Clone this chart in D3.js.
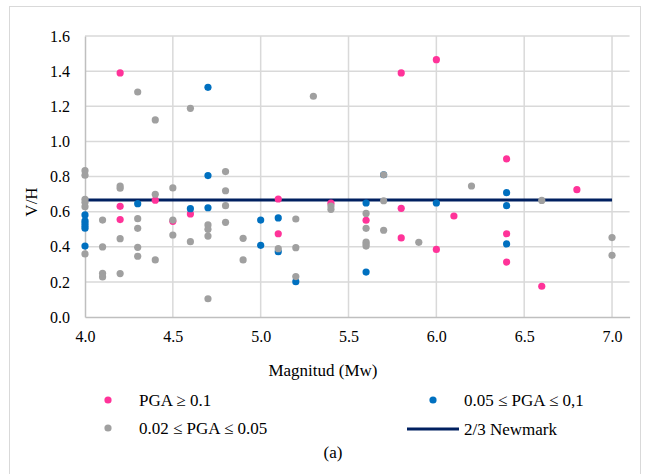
<!DOCTYPE html>
<html><head><meta charset="utf-8">
<script src="https://cdn.jsdelivr.net/npm/d3@7"></script>
<style>body{margin:0;background:#fff}svg{display:block}text{font-family:"Liberation Serif","Times New Roman",serif;fill:#000}</style>
</head><body><svg id="c" width="646" height="474"></svg>
<script>
const xTicks = [4.0, 4.5, 5.0, 5.5, 6.0, 6.5, 7.0];
const yTicks = [0.0, 0.2, 0.4, 0.6, 0.8, 1.0, 1.2, 1.4, 1.6];

const highX = [4.2,4.2,4.2,4.4,4.5,4.6,5.1,5.1,5.4,5.6,5.8,5.8,5.8,6.0,6.0,6.1,6.4,6.4,6.4,6.6,6.8];
const highY = [1.39,0.63,0.555,0.665,0.545,0.587,0.672,0.474,0.648,0.551,1.39,0.619,0.45,1.465,0.385,0.575,0.90,0.474,0.313,0.175,0.725];

const midX = [4.0,4.0,4.0,4.0,4.0,4.0,4.3,4.6,4.7,4.7,4.7,5.0,5.0,5.1,5.1,5.2,5.6,5.6,5.7,6.0,6.4,6.4,6.4];
const midY = [0.581,0.548,0.535,0.52,0.506,0.404,0.645,0.617,1.308,0.805,0.622,0.552,0.408,0.564,0.372,0.201,0.649,0.256,0.81,0.649,0.708,0.634,0.416];

const lowX = [4.0,4.0,4.0,4.0,4.0,4.0,4.1,4.1,4.1,4.1,4.2,4.2,4.2,4.2,4.3,4.3,4.3,4.3,4.3,4.4,4.4,4.4,4.5,4.5,4.5,4.6,4.6,4.7,4.7,4.7,4.7,4.8,4.8,4.8,4.8,4.9,4.9,5.1,5.2,5.2,5.2,5.3,5.4,5.4,5.6,5.6,5.6,5.6,5.6,5.7,5.7,5.7,5.9,6.2,6.6,7.0,7.0];
const lowY = [0.833,0.807,0.67,0.653,0.628,0.359,0.552,0.399,0.249,0.228,0.746,0.733,0.446,0.247,1.281,0.56,0.505,0.397,0.346,1.122,0.699,0.325,0.735,0.552,0.467,1.188,0.429,0.524,0.499,0.461,0.104,0.828,0.719,0.634,0.539,0.448,0.325,0.389,0.558,0.395,0.23,1.257,0.632,0.613,0.59,0.505,0.427,0.416,0.404,0.81,0.662,0.494,0.425,0.746,0.664,0.452,0.351];

const newmarkX = [4.0, 7.0];
const newmarkY = [2/3, 2/3];

const seriesNames = ["PGA \u2265 0.1", "0.05 \u2264 PGA \u2264 0,1", "0.02 \u2264 PGA \u2264 0.05", "2/3 Newmark"];
const colors = ["#ff3399", "#0070c0", "#a0a0a0", "#002060"];

const FONT = '"Liberation Serif","Times New Roman",serif';
const svg = d3.select("#c");
// outer frame
svg.append("rect").attr("x",9.5).attr("y",6.5).attr("width",631).attr("height",480)
  .attr("fill","none").attr("stroke","#d9d9d9").attr("stroke-width",1);

const x = d3.scaleLinear().domain([4.0, 7.1]).range([85, 629.6]);
const y = d3.scaleLinear().domain([0, 1.6]).range([317, 36]);

// grid
const g = svg.append("g");
g.selectAll(".hg").data(yTicks.filter(d=>d>0)).join("line")
  .attr("x1",x(4.0)).attr("x2",x(7.1)).attr("y1",d=>y(d)).attr("y2",d=>y(d))
  .attr("stroke","#d9d9d9").attr("stroke-width",1.5);
g.selectAll(".vg").data(xTicks.filter(d=>d>4)).join("line")
  .attr("x1",d=>x(d)).attr("x2",d=>x(d)).attr("y1",y(0)).attr("y2",y(1.6))
  .attr("stroke","#d9d9d9").attr("stroke-width",1.5);

// axes
const xAxis = d3.axisBottom(x).tickValues(xTicks).tickFormat(d3.format(".1f")).tickSize(0).tickPadding(14);
const yAxis = d3.axisLeft(y).tickValues(yTicks).tickFormat(d3.format(".1f")).tickSize(0).tickPadding(15);
const gx = svg.append("g").attr("transform",`translate(0,${y(0)})`).call(xAxis);
const gy = svg.append("g").attr("transform",`translate(${x(4.0)},0)`).call(yAxis);
[gx,gy].forEach(a=>{
  a.attr("font-family",FONT).attr("font-size",16);
  a.select(".domain").attr("stroke","#bfbfbf").attr("stroke-width",1.5);
  a.selectAll("text").attr("font-family",FONT).attr("font-size",16).attr("fill","#000");
});

// newmark line
svg.append("path").datum(newmarkX.map((d,i)=>[d,newmarkY[i]]))
  .attr("d", d3.line().x(d=>x(d[0])).y(d=>y(d[1])))
  .attr("stroke",colors[3]).attr("stroke-width",3).attr("fill","none");

// points: pink, blue, gray
const series = [[highX,highY],[midX,midY],[lowX,lowY]];
series.forEach((s,i)=>{
  svg.append("g").selectAll("circle").data(s[0].map((d,j)=>[d,s[1][j]])).join("circle")
    .attr("cx",d=>x(d[0])).attr("cy",d=>y(d[1])).attr("r",3.6).attr("fill",colors[i]);
});

// axis titles
svg.append("text").attr("x",323).attr("y",376).attr("text-anchor","middle").style("font-size","17px").text("Magnitud (Mw)");
svg.append("text").attr("transform","translate(37,202) rotate(-90)").attr("text-anchor","middle").style("font-size","17px").text("V/H");

// legend
const leg = [
  {i:0, mx:108, my:400, tx:139},
  {i:1, mx:433, my:400, tx:464},
  {i:2, mx:108, my:428, tx:139},
  {i:3, mx:433, my:429, tx:464}
];
leg.forEach(l=>{
  if(l.i<3){
    svg.append("circle").attr("cx",l.mx).attr("cy",l.my).attr("r",3.6).attr("fill",colors[l.i]);
  } else {
    svg.append("line").attr("x1",407).attr("x2",459).attr("y1",l.my).attr("y2",l.my)
      .attr("stroke",colors[3]).attr("stroke-width",3);
  }
  svg.append("text").attr("x",l.tx).attr("y",l.my+6).style("font-size","17px").text(seriesNames[l.i]);
});
svg.append("text").attr("x",333).attr("y",458).attr("text-anchor","middle").style("font-size","17px").text("(a)");
</script></body></html>
